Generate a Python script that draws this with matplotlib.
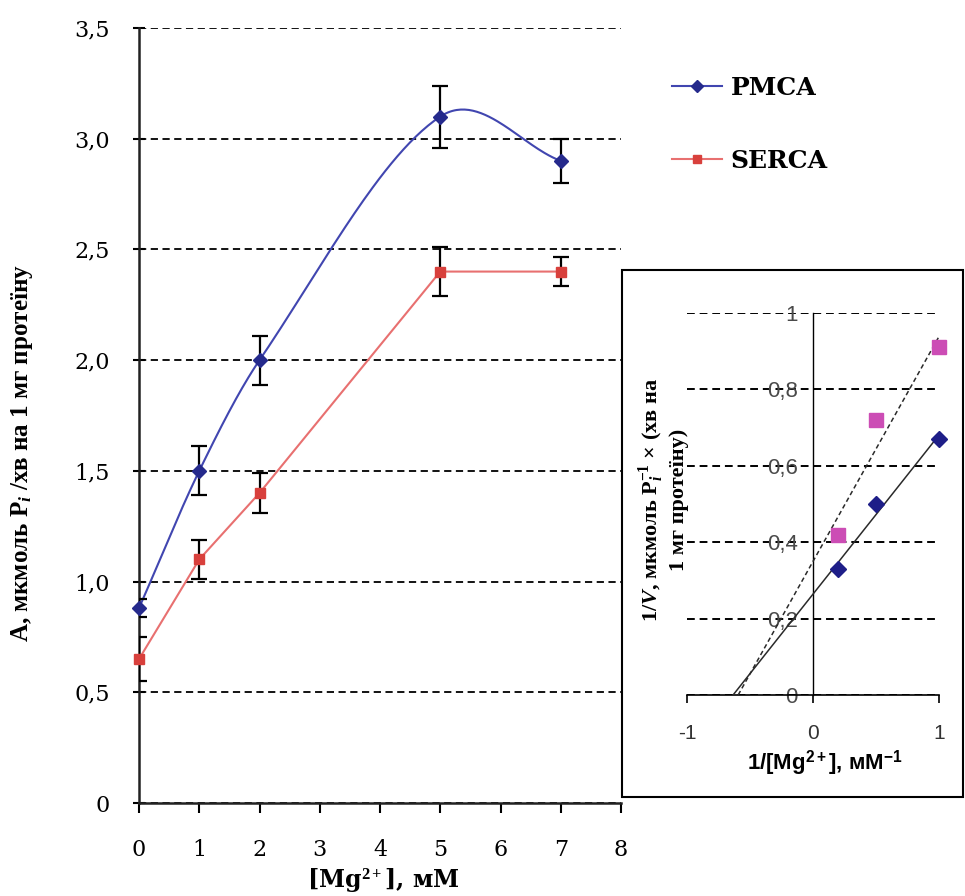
import numpy as np
import matplotlib
matplotlib.use('Agg')
import matplotlib.pyplot as plt
from matplotlib.patches import Rectangle
from matplotlib.lines import Line2D

plt.rcParams['mathtext.fontset'] = 'custom'
plt.rcParams['mathtext.rm'] = 'Liberation Serif:bold'
plt.rcParams['mathtext.it'] = 'Liberation Serif:italic:bold'
plt.rcParams['mathtext.bf'] = 'Liberation Serif:bold'
plt.rcParams['mathtext.sf'] = 'Liberation Sans:bold'

# Mg2+ concentration, mM
mg = [0, 1, 2, 5, 7]
pmca = [0.88, 1.5, 2.0, 3.1, 2.9]
pmca_err = [0.04, 0.11, 0.11, 0.14, 0.10]
serca = [0.65, 1.1, 1.4, 2.4, 2.4]
serca_err = [0.10, 0.09, 0.09, 0.11, 0.065]

y_ticks = [0, 0.5, 1.0, 1.5, 2.0, 2.5, 3.0, 3.5]
y_tick_labels = ['0', '0,5', '1,0', '1,5', '2,0', '2,5', '3,0', '3,5']
x_ticks = [0, 1, 2, 3, 4, 5, 6, 7, 8]

# double reciprocal coordinates for the inset
inv_mg = [0.2, 0.5, 1.0]
inv_v_pmca = [0.33, 0.50, 0.67]
inv_v_serca = [0.42, 0.72, 0.91]
inset_y_ticks = [0, 0.2, 0.4, 0.6, 0.8, 1.0]
inset_y_labels = ['0', '0,2', '0,4', '0,6', '0,8', '1']
inset_x_ticks = [-1, 0, 1]
inset_x_labels = ['-1', '0', '1']

PMCA_LINE = '#4146b0'
PMCA_MARK = '#252a8c'
SERCA_LINE = '#e87070'
SERCA_MARK = '#d8403c'


def smooth(x, y, n=60):
    # cubic Hermite through the points, slopes from neighbouring points
    x = np.asarray(x, float)
    y = np.asarray(y, float)
    m = np.empty_like(y)
    m[1:-1] = (y[2:] - y[:-2]) / (x[2:] - x[:-2])
    m[0] = (y[1] - y[0]) / (x[1] - x[0])
    m[-1] = (y[-1] - y[-2]) / (x[-1] - x[-2])
    xs, ys = [], []
    t = np.linspace(0, 1, n)
    for i in range(len(x) - 1):
        h = x[i + 1] - x[i]
        h00 = 2 * t ** 3 - 3 * t ** 2 + 1
        h10 = t ** 3 - 2 * t ** 2 + t
        h01 = -2 * t ** 3 + 3 * t ** 2
        h11 = t ** 3 - t ** 2
        xs.append(x[i] + t * h)
        ys.append(h00 * y[i] + h10 * h * m[i] + h01 * y[i + 1] + h11 * h * m[i + 1])
    return np.concatenate(xs), np.concatenate(ys)


fig = plt.figure(figsize=(9.65, 8.96), dpi=100, facecolor='white')

ax = fig.add_axes([139 / 965, 93 / 896, 482 / 965, 775 / 896])
ax.set_xlim(0, 8)
ax.set_ylim(0, 3.5)
for s in ['top', 'right']:
    ax.spines[s].set_visible(False)
for s in ['left', 'bottom']:
    ax.spines[s].set_linewidth(1.8)
    ax.spines[s].set_color('#222222')
ax.set_yticks(y_ticks)
ax.set_yticklabels(y_tick_labels)
ax.set_xticks(x_ticks)
ax.tick_params(axis='y', direction='inout', length=8, width=1.5, pad=17)
ax.tick_params(axis='x', direction='out', length=7, width=1.5, pad=19)
for lab in ax.get_xticklabels() + ax.get_yticklabels():
    lab.set_family('DejaVu Serif')
    lab.set_fontsize(16)
ax.yaxis.grid(True, linestyle=(0, (4, 2.5)), color='black', linewidth=1.3)
ax.set_axisbelow(True)

px, py = smooth(mg, pmca)
ax.plot(px, py, color=PMCA_LINE, lw=1.5, zorder=3, clip_on=False)
ax.errorbar(mg, pmca, yerr=pmca_err, fmt='none', ecolor='black',
            elinewidth=1.6, capsize=6, capthick=1.6, zorder=4)
ax.plot(mg, pmca, 'D', color=PMCA_MARK, ms=7, zorder=5, clip_on=False)

ax.plot(mg, serca, color=SERCA_LINE, lw=1.5, zorder=3)
ax.errorbar(mg, serca, yerr=serca_err, fmt='none', ecolor='black',
            elinewidth=1.6, capsize=6, capthick=1.6, zorder=4)
ax.plot(mg, serca, 's', color=SERCA_MARK, ms=7, zorder=5, clip_on=False)

fig.text(22 / 965, 1 - 453 / 896, 'А, мкмоль P$_i$ /хв на 1 мг протеїну',
         rotation=90, ha='center', va='center', family='Liberation Serif',
         weight='bold', size=18)
fig.text(383 / 965, 1 - 880 / 896, '[Mg$^{2+}$], мМ', ha='center', va='center',
         family='DejaVu Serif', weight='bold', size=17)

handles = [Line2D([], [], color=PMCA_LINE, lw=1.5, marker='D', ms=6,
                  markerfacecolor=PMCA_MARK, markeredgecolor=PMCA_MARK),
           Line2D([], [], color=SERCA_LINE, lw=1.5, marker='s', ms=6,
                  markerfacecolor=SERCA_MARK, markeredgecolor=SERCA_MARK)]
fig.legend(handles, ['PMCA', 'SERCA'], loc='upper left',
           bbox_to_anchor=(672 / 965, 1 - 76 / 896), frameon=False,
           handlelength=2.0, handletextpad=0.35, labelspacing=1.95,
           borderpad=0, borderaxespad=0,
           prop={'family': 'DejaVu Serif', 'weight': 'bold', 'size': 18})

# inset panel
box = Rectangle((622 / 965, 99 / 896), 341 / 965, 527 / 896,
                transform=fig.transFigure, facecolor='white',
                edgecolor='black', lw=1.5, zorder=1)
fig.add_artist(box)

axi = fig.add_axes([687 / 965, 201 / 896, 252 / 965, 382 / 896], zorder=2)
axi.patch.set_alpha(0)
axi.set_xlim(-1, 1)
axi.set_ylim(0, 1)
axi.spines['top'].set_visible(False)
axi.spines['right'].set_visible(False)
axi.spines['left'].set_position(('data', 0))
axi.spines['left'].set_linewidth(1.0)
axi.spines['bottom'].set_linewidth(1.2)
axi.set_yticks(inset_y_ticks)
axi.set_yticklabels(inset_y_labels)
axi.set_xticks(inset_x_ticks)
axi.set_xticklabels(inset_x_labels)
axi.tick_params(axis='y', length=0, pad=11, labelsize=16, labelcolor='#4a4a4a')
axi.tick_params(axis='x', direction='out', length=6, width=1.2, pad=15,
                labelsize=15, labelcolor='#333333')
for lab in axi.get_xticklabels() + axi.get_yticklabels():
    lab.set_family('Liberation Sans')
axi.yaxis.grid(True, linestyle=(0, (4, 2.5)), color='black', linewidth=1.4)

for vals, style in [(inv_v_pmca, '-'), (inv_v_serca, (0, (3, 2)))]:
    k, b = np.polyfit(inv_mg, vals, 1)
    xs = np.array([-b / k, 1.0])
    axi.plot(xs, k * xs + b, color='#2a2a2a', lw=1.1, ls=style, zorder=3)

axi.plot(inv_mg, inv_v_pmca, 'D', color='#1e1e88', ms=8, zorder=4, clip_on=False)
axi.plot(inv_mg, inv_v_serca, 's', color='#cc4db5', ms=10, zorder=4, clip_on=False)

axi.text(0.548, -0.178, '1/[Mg$^{\\mathsf{2+}}$], мМ$^{\\mathsf{-1}}$',
         transform=axi.transAxes, ha='center', va='center',
         family='Liberation Sans', weight='bold', size=16)
axi.text(-0.095, 0.51, '1/$V$, мкмоль P$_i^{-1}$ × (хв на\n1 мг протеїну)',
         transform=axi.transAxes, rotation=90, ha='center', va='center',
         multialignment='center', family='Liberation Serif', weight='bold',
         size=16, linespacing=1.2)

fig.savefig('out.png', dpi=100, facecolor='white')
